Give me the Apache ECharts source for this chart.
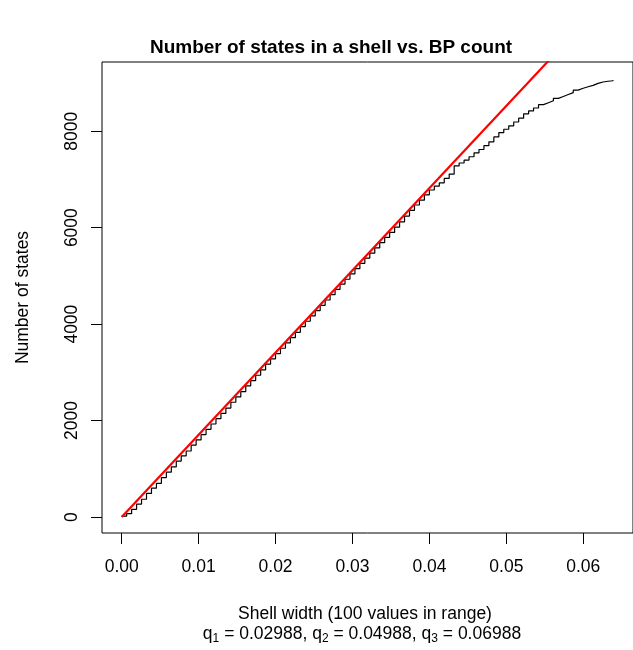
<!DOCTYPE html>
<html>
<head>
<meta charset="utf-8">
<script src="https://cdn.jsdelivr.net/npm/echarts@6/dist/echarts.min.js"></script>
<style>
  html, body { margin: 0; padding: 0; background: #fff; }
  #chart { width: 633px; height: 650px; }
</style>
</head>
<body>
<div id="chart"></div>
<script>
// Shell widths: 100 evenly spaced values from 0 up to the top of the range
const widthStep = 0.000645;
const nWidths = 100;

// Number of states counted for each shell width
const stateCounts = [
  20, 70, 160, 270, 370, 490, 600, 700, 820, 930,
  1040, 1160, 1270, 1370, 1490, 1600, 1710, 1820, 1930, 2040,
  2150, 2260, 2380, 2490, 2600, 2720, 2830, 2940, 3050, 3170,
  3280, 3390, 3500, 3610, 3720, 3830, 3950, 4060, 4170, 4280,
  4390, 4500, 4610, 4720, 4830, 4930, 5040, 5150, 5260, 5370,
  5470, 5580, 5690, 5800, 5900, 6010, 6120, 6240, 6360, 6470,
  6570, 6680, 6780, 6860, 6930, 7020, 7110, 7280, 7340, 7400,
  7470, 7550, 7620, 7700, 7780, 7880, 7970, 8040, 8110, 8190,
  8270, 8360, 8420, 8480, 8550, 8590, 8630, 8680, 8720, 8760,
  8800, 8850, 8890, 8920, 8950, 8990, 9020, 9035, 9045, 9060
];

// Reference line through the origin (states per unit width)
const refSlope = 170500;
const refLineX = [0, 0.06];

// Tick values
const xTicks = [0, 0.01, 0.02, 0.03, 0.04, 0.05, 0.06];
const yTicks = [0, 2000, 4000, 6000, 8000];

const FONT = "'Liberation Sans', Arial, Helvetica, sans-serif";
const LABEL_SIZE = 17.5;

const widths = [];
for (let i = 0; i < nWidths; i++) widths.push(+(i * widthStep).toFixed(6));
const stepData = widths.map((w, i) => [w, stateCounts[i]]);
const refData = refLineX.map(x => [x, x * refSlope]);

const chart = echarts.init(document.getElementById('chart'), null, { renderer: 'canvas' });

chart.setOption({
  backgroundColor: '#ffffff',
  animation: false,
  title: [
    {
      text: 'Number of states in a shell vs. BP count',
      left: 331, top: 38, textAlign: 'center', padding: 0,
      textStyle: { fontFamily: FONT, fontSize: 19, fontWeight: 'bold', color: '#000' }
    },
    {
      text: 'Shell width (100 values in range)',
      left: 365, top: 605, textAlign: 'center', padding: 0,
      textStyle: { fontFamily: FONT, fontSize: LABEL_SIZE, fontWeight: 'normal', color: '#000' }
    },
    {
      text: '{q|q}{s|1}{q| = 0.02988, q}{s|2}{q| = 0.04988, q}{s|3}{q| = 0.06988}',
      left: 362, top: 624, textAlign: 'center', padding: 0,
      textStyle: {
        fontFamily: FONT, fontSize: LABEL_SIZE, fontWeight: 'normal', color: '#000',
        rich: {
          q: { fontFamily: FONT, fontSize: LABEL_SIZE, fontWeight: 'normal', color: '#000' },
          s: { fontFamily: FONT, fontSize: 12, fontWeight: 'normal', color: '#000', padding: [9, 0, 0, 0] }
        }
      }
    }
  ],
  grid: {
    left: 102, top: 62, width: 541, height: 471,
    show: true, borderColor: '#000', borderWidth: 1, backgroundColor: 'transparent'
  },
  xAxis: {
    type: 'value',
    min: -0.00256, max: 0.06646,
    axisLine: { show: false, onZero: false },
    splitLine: { show: false },
    axisTick: {
      show: true, length: 11, inside: false, customValues: xTicks,
      lineStyle: { color: '#000', width: 1 }
    },
    axisLabel: {
      show: true, customValues: xTicks, margin: 25,
      fontFamily: FONT, fontSize: LABEL_SIZE, color: '#000',
      formatter: v => v.toFixed(2)
    }
  },
  yAxis: {
    type: 'value',
    min: -330, max: 9434,
    name: 'Number of states',
    nameLocation: 'middle', nameRotate: 90, nameGap: 70,
    nameTextStyle: { fontFamily: FONT, fontSize: LABEL_SIZE, color: '#000' },
    axisLine: { show: false, onZero: false },
    splitLine: { show: false },
    axisTick: {
      show: true, length: 11, inside: false, customValues: yTicks,
      lineStyle: { color: '#000', width: 1 }
    },
    axisLabel: {
      show: true, customValues: yTicks, rotate: 90, margin: 21,
      fontFamily: FONT, fontSize: LABEL_SIZE, color: '#000',
      formatter: v => String(v)
    }
  },
  series: [
    {
      type: 'line',
      name: 'states',
      data: stepData,
      step: 'end',
      symbol: 'none',
      clip: true,
      lineStyle: { color: '#000', width: 1.2 }
    },
    {
      type: 'line',
      name: 'reference',
      data: refData,
      symbol: 'none',
      clip: true,
      lineStyle: { color: '#ff0000', width: 2.2 }
    }
  ]
});
</script>
</body>
</html>
